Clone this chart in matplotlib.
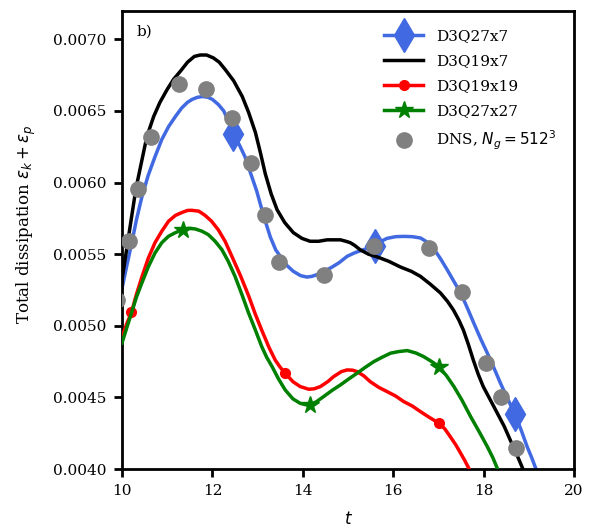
import matplotlib
matplotlib.use("Agg")
import matplotlib.pyplot as plt

plt.rcParams['font.family'] = ['DejaVu Serif']
plt.rcParams['mathtext.fontset'] = 'dejavusans'

# ---- data ----
t_blue = [10.00, 10.10, 10.21, 10.32, 10.44, 10.58, 10.73, 10.88, 11.03, 11.18, 11.32, 11.45, 11.55,
          11.67, 11.78, 11.90, 12.00, 12.13, 12.25, 12.35, 12.46, 12.60, 12.72, 12.85, 12.98, 13.13,
          13.28, 13.40, 13.50, 13.65, 13.79, 13.95, 14.09, 14.20, 14.31, 14.45, 14.61, 14.80, 14.98,
          15.15, 15.34, 15.47, 15.60, 15.73, 15.86, 16.05, 16.23, 16.42, 16.60, 16.72, 16.82, 16.89,
          17.04, 17.19, 17.34, 17.49, 17.63, 17.78, 17.93, 18.08, 18.22, 18.37, 18.53, 18.69, 18.83,
          18.96, 19.06, 19.15, 19.25]
v_blue = [0.00526, 0.00541, 0.00557, 0.00574, 0.00590, 0.00605, 0.00618, 0.00630, 0.00639, 0.00646,
          0.00652, 0.00656, 0.00658, 0.006595, 0.00660, 0.006595, 0.00658, 0.006545, 0.00650, 0.00643,
          0.00634, 0.00626, 0.00618, 0.00606, 0.00594, 0.00577, 0.00562, 0.00553, 0.005485, 0.00542,
          0.00538, 0.00535, 0.00534, 0.005345, 0.005357, 0.00538, 0.005403, 0.00544, 0.005485, 0.00551,
          0.005531, 0.005545, 0.00556, 0.00559, 0.00561, 0.005622, 0.005624, 0.005622, 0.005613,
          0.00559, 0.005565, 0.00554, 0.00547, 0.005392, 0.00531, 0.005229, 0.00513, 0.005019,
          0.00491, 0.004809, 0.00471, 0.004599, 0.00449, 0.004383, 0.00427, 0.004156, 0.00408,
          0.004005, 0.00392]
marks_blue = [12.46, 15.60, 18.69]

t_black = [10.00, 10.13, 10.31, 10.55, 10.70, 10.84, 11.00, 11.14, 11.30, 11.45, 11.60, 11.73, 11.87,
           12.02, 12.15, 12.28, 12.47, 12.66, 12.80, 12.95, 13.06, 13.17, 13.30, 13.43, 13.60, 13.79,
           13.98, 14.16, 14.35, 14.54, 14.70, 14.83, 14.95, 15.05, 15.15, 15.27, 15.45, 15.65, 15.90,
           16.16, 16.40, 16.60, 16.82, 17.04, 17.20, 17.33, 17.45, 17.55, 17.66, 17.77, 17.88, 17.99,
           18.15, 18.30, 18.45, 18.59, 18.72, 18.86, 18.95]
v_black = [0.00532, 0.00559, 0.00596, 0.00632, 0.00646, 0.00656, 0.00665, 0.00672, 0.00678, 0.00684,
           0.00688, 0.00689, 0.00689, 0.00687, 0.00684, 0.00679, 0.00671, 0.00660, 0.00649, 0.00635,
           0.00621, 0.00606, 0.00592, 0.00581, 0.00572, 0.00565, 0.00561, 0.00559, 0.00559, 0.00560,
           0.00560, 0.00560, 0.00559, 0.00558, 0.00556, 0.00553, 0.00550, 0.00548, 0.00545, 0.00541,
           0.00538, 0.005345, 0.00529, 0.00523, 0.00517, 0.00511, 0.00504, 0.00497, 0.00487, 0.00476,
           0.00466, 0.004575, 0.00448, 0.00439, 0.00430, 0.00420, 0.00411, 0.004005, 0.00394]

t_red = [10.00, 10.10, 10.21, 10.32, 10.44, 10.58, 10.73, 10.88, 11.03, 11.18, 11.32, 11.45, 11.54,
         11.70, 11.84, 11.98, 12.13, 12.28, 12.43, 12.62, 12.80, 12.95, 13.09, 13.25, 13.39, 13.50,
         13.61, 13.78, 13.94, 14.13, 14.25, 14.39, 14.55, 14.68, 14.85, 14.98, 15.10, 15.20, 15.35,
         15.49, 15.68, 15.86, 16.05, 16.23, 16.42, 16.60, 16.80, 17.01, 17.14, 17.26, 17.38, 17.49,
         17.58, 17.67, 17.75]
v_red = [0.00492, 0.00501, 0.005093, 0.00522, 0.00534, 0.00547, 0.00558, 0.00566, 0.00573, 0.00577,
         0.00579, 0.005805, 0.005806, 0.00580, 0.00577, 0.00573, 0.00567, 0.00559, 0.005485, 0.00535,
         0.00521, 0.00508, 0.00497, 0.00485, 0.00476, 0.00471, 0.004669, 0.00461, 0.004576, 0.004557,
         0.00456, 0.004576, 0.00461, 0.004645, 0.00468, 0.004692, 0.00469, 0.004680, 0.00465, 0.004610,
         0.00457, 0.004541, 0.00451, 0.004471, 0.00444, 0.004401, 0.00436, 0.004320, 0.00428, 0.004226,
         0.00417, 0.004110, 0.00406, 0.004005, 0.00394]
marks_red = [10.21, 13.61, 17.01]

t_green = [10.00, 10.10, 10.21, 10.32, 10.44, 10.58, 10.73, 10.88, 11.03, 11.18, 11.34, 11.48, 11.62,
           11.77, 11.91, 12.06, 12.21, 12.35, 12.50, 12.65, 12.80, 12.95, 13.09, 13.20, 13.32, 13.46,
           13.61, 13.78, 13.94, 14.05, 14.16, 14.30, 14.46, 14.65, 14.83, 15.02, 15.20, 15.38, 15.57,
           15.75, 15.94, 16.12, 16.31, 16.50, 16.67, 16.85, 17.01, 17.18, 17.34, 17.52, 17.71, 17.90,
           18.08, 18.20, 18.30, 18.38]
v_green = [0.00488, 0.00498, 0.005089, 0.00520, 0.005299, 0.00541, 0.005508, 0.00558, 0.005625,
           0.00565, 0.005671, 0.00568, 0.005676, 0.00566, 0.005636, 0.00559, 0.005531, 0.00545,
           0.005345, 0.00522, 0.005089, 0.00497, 0.004855, 0.00478, 0.004715, 0.00463, 0.004552,
           0.00449, 0.004459, 0.00445, 0.004448, 0.00447, 0.004506, 0.00455, 0.004587, 0.00463,
           0.004669, 0.00471, 0.004750, 0.00478, 0.004809, 0.00482, 0.004827, 0.00481, 0.004785,
           0.00475, 0.004715, 0.00465, 0.004576, 0.00448, 0.004366, 0.00426, 0.004156, 0.00408,
           0.004005, 0.00394]
marks_green = [11.34, 14.16, 17.01]

t_dns = [9.89, 10.155, 10.36, 10.64, 11.25, 11.85, 12.43, 12.85, 13.16, 13.48, 14.47, 15.58, 16.80,
         17.52, 18.06, 18.39, 18.72]
v_dns = [0.00518, 0.005594, 0.005958, 0.006317, 0.006685, 0.006650, 0.006452, 0.006136, 0.005776,
         0.005445, 0.005357, 0.005559, 0.005542, 0.005233, 0.004739, 0.004506, 0.004145]

labels = ['D3Q27x7', 'D3Q19x7', 'D3Q19x19', 'D3Q27x27', r'DNS, $N_g = 512^3$']
yticks = [0.0040, 0.0045, 0.0050, 0.0055, 0.0060, 0.0065, 0.0070]
xticks = [10, 12, 14, 16, 18, 20]


def idx(ts, marks):
    return [ts.index(m) for m in marks]


fig = plt.figure(figsize=(5.95, 5.30), dpi=100)
ax = fig.add_axes([0.205, 0.115, 0.760, 0.865])

lw = 2.5
ax.plot(t_blue, v_blue, color='royalblue', lw=lw, marker='d', ms=17,
        markevery=idx(t_blue, marks_blue), label=labels[0], zorder=2)
ax.plot(t_black, v_black, color='black', lw=lw, label=labels[1], zorder=3)
ax.plot(t_red, v_red, color='red', lw=lw, marker='o', ms=7,
        markevery=idx(t_red, marks_red), label=labels[2], zorder=3)
ax.plot(t_green, v_green, color='green', lw=lw, marker='*', ms=13,
        markevery=idx(t_green, marks_green), label=labels[3], zorder=3)
ax.plot(t_dns, v_dns, ls='none', marker='o', ms=11, color='gray', label=labels[4], zorder=4)

ax.set_xlim(10, 20)
ax.set_ylim(0.0040, 0.0072)
ax.set_xticks(xticks)
ax.set_yticks(yticks)
ax.set_yticklabels(['%.4f' % v for v in yticks])
ax.tick_params(direction='out', length=6, width=2, pad=5, labelsize=11)
for s in ax.spines.values():
    s.set_linewidth(2)

ax.set_xlabel(r'$t$', fontsize=12, labelpad=9)
ax.set_ylabel(r'Total dissipation $\varepsilon_k + \varepsilon_p$', fontsize=12)
ax.yaxis.set_label_coords(-0.185, 0.535)
ax.text(0.033, 0.955, 'b)', transform=ax.transAxes, fontsize=11, va='center', ha='left')

ax.legend(loc='upper right', bbox_to_anchor=(0.99, 0.99), frameon=False, fontsize=11,
          handlelength=2.6, labelspacing=0.72)

fig.savefig('out.png', dpi=100)
